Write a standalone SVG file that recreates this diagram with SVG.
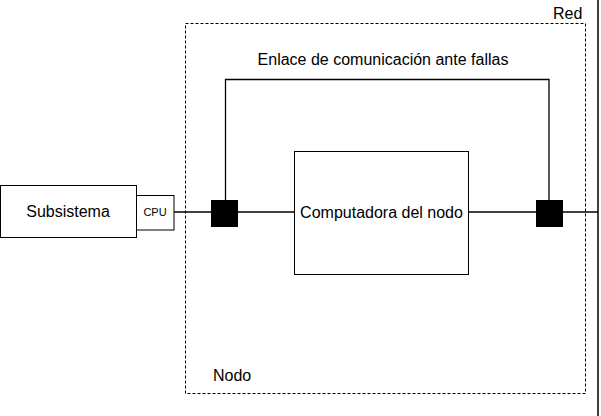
<svg xmlns="http://www.w3.org/2000/svg" width="601" height="416" viewBox="0 0 601 416">
<style>
text{font-family:"Liberation Sans",Arial,sans-serif;font-size:16px;fill:#000}
.box{fill:#fff;stroke:#000;stroke-width:1}
.ln{fill:none;stroke:#000;stroke-width:1.3}
.port{fill:#000}
</style>
<rect width="601" height="416" fill="#fff"/>
<g id="red">
<line x1="598" y1="0" x2="598" y2="416" stroke="#000" stroke-width="1.5"/>
<text x="553" y="19">Red</text>
</g>
<g id="nodo">
<rect x="185.5" y="23.5" width="400" height="370" fill="none" stroke="#000" stroke-width="1" stroke-dasharray="3,2"/>
<text x="213" y="381">Nodo</text>
</g>
<g id="connectors">
<line class="ln" x1="174" y1="212" x2="211" y2="212"/>
<line class="ln" x1="238" y1="212" x2="294" y2="212"/>
<line class="ln" x1="468" y1="212" x2="536" y2="212"/>
<line class="ln" x1="563" y1="212" x2="598" y2="212"/>
<polyline class="ln" points="225.5,200 225.5,79.5 549,79.5 549,200"/>
<text x="383" y="65" text-anchor="middle">Enlace de comunicación ante fallas</text>
</g>
<g id="subsistema">
<rect class="box" x="0.5" y="185.5" width="136" height="52"/>
<text x="68" y="217" text-anchor="middle">Subsistema</text>
</g>
<g id="cpu">
<rect class="box" x="136.5" y="195.5" width="37.5" height="34.5"/>
<text x="155" y="216" text-anchor="middle" style="font-size:11px">CPU</text>
</g>
<g id="computadora">
<rect class="box" x="294.5" y="151.5" width="174" height="123"/>
<text x="381.5" y="218" text-anchor="middle">Computadora del nodo</text>
</g>
<g id="puerto1"><rect class="port" x="211" y="200" width="27" height="27"/></g>
<g id="puerto2"><rect class="port" x="536" y="200" width="27" height="27"/></g>
</svg>
